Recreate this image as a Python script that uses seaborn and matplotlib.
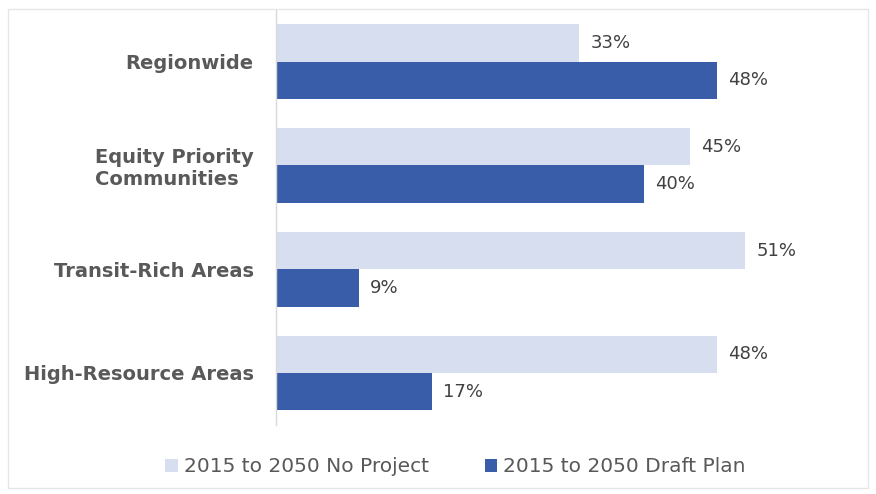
import pandas as pd
import seaborn as sns
import matplotlib.pyplot as plt
from matplotlib.patches import Rectangle

# Données du graphique
categories = ["Regionwide", "Equity Priority\nCommunities", "Transit-Rich Areas", "High-Resource Areas"]
series_names = ["2015 to 2050 No Project", "2015 to 2050 Draft Plan"]
no_project = [33, 45, 51, 48]
draft_plan = [48, 40, 9, 17]

df = pd.DataFrame({
    "category": categories * 2,
    "series": [series_names[0]] * 4 + [series_names[1]] * 4,
    "value": no_project + draft_plan,
})

sns.set_style("white")
plt.rcParams["font.family"] = ["DejaVu Sans"]

fig = plt.figure(figsize=(8.76, 4.94), dpi=100)
ax = fig.add_axes([0.315, 0.14, 0.63, 0.84])

palette = {series_names[0]: "#D6DEF0", series_names[1]: "#3A5DA9"}
sns.barplot(data=df, y="category", x="value", hue="series", orient="h",
            palette=palette, width=0.72, gap=0, saturation=1, linewidth=0, ax=ax)

# Étiquettes de valeurs
for cont in ax.containers:
    ax.bar_label(cont, labels=[f"{v:.0f}%" for v in cont.datavalues],
                 padding=8, fontsize=13, color="#404040")

ax.set_xlim(0, 60)
ax.set_xlabel("")
ax.set_ylabel("")
ax.set_xticks([])
ax.tick_params(axis="y", length=0, pad=16)
for lbl in ax.get_yticklabels():
    lbl.set_fontweight("bold")
    lbl.set_fontsize(14)
    lbl.set_color("#595959")
    lbl.set_horizontalalignment("right")
    lbl.set_multialignment("left")

for side in ["top", "right", "bottom"]:
    ax.spines[side].set_visible(False)
ax.spines["left"].set_color("#D9D9D9")
ax.spines["left"].set_linewidth(1)

# Légende en bas
handles, labels = ax.get_legend_handles_labels()
ax.get_legend().remove()
fig.legend(handles, labels, loc="center", bbox_to_anchor=(0.52, 0.055), ncol=2,
           frameon=False, fontsize=14.5, handlelength=0.6, handleheight=0.6,
           handletextpad=0.3, columnspacing=2.8, labelcolor="#595959")

# Cadre gris clair autour de la figure
fig.patches.append(Rectangle((0.009, 0.012), 0.982, 0.97, transform=fig.transFigure,
                             fill=False, edgecolor="#E6E6E6", linewidth=1))

fig.savefig("out.png", dpi=100)
